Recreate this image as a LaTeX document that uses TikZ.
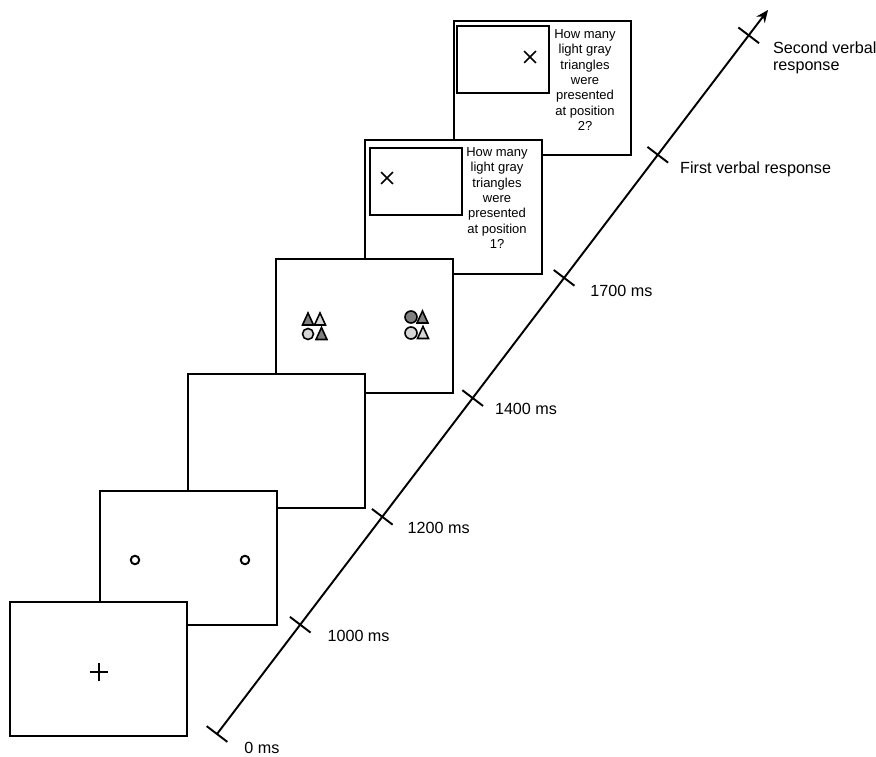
\documentclass[tikz,border=0pt]{standalone}
\usepackage{fontspec}
\setmainfont{Liberation Sans}
\usetikzlibrary{calc,arrows.meta,shapes.misc}

\definecolor{darkshape}{gray}{0.5}
\definecolor{lightshape}{gray}{0.84}

% small triangle of the display: colour, x, y
\newcommand{\stimtri}[3]{\filldraw[stim, fill=#1] (#2-5.5,#3+6) -- (#2,#3-6) -- (#2+5.5,#3+6) -- cycle;}

\begin{document}
\begin{tikzpicture}[
		x=0.02cm, y=-0.02cm,
		screen/.style={draw, fill=white, line width=0.9pt, anchor=north west, inner sep=0pt,
				minimum width=3.54cm, minimum height=2.68cm},
		frame/.style={draw, line width=1pt, anchor=north west, inner sep=0pt,
				minimum width=1.84cm, minimum height=1.34cm},
		question/.style={align=center, inner sep=0pt, font=\fontsize{7.4}{8.8}\selectfont},
		timelabel/.style={anchor=north west, align=left, inner sep=0pt, font=\fontsize{9.2}{9.8}\selectfont},
		crossmark/.style={draw, cross out, line width=1pt, minimum size=0.2cm, inner sep=0pt},
		stim/.style={draw=black, line width=0.9pt}
	]
	\useasboundingbox (0,0) rectangle (876,757);

	% screens, last one first so that earlier ones lie on top
	\foreach \i/\x/\y in {6/453/20, 5/364/139, 4/275/258, 3/187/373, 2/99/490, 1/9/601}
	\node[screen] (s\i) at (\x,\y) {};

	% fixation cross and place holders
	\node[crossmark, rotate=45, line width=0.7pt, minimum size=0.24cm] (fix) at (99,672) {};
	\node[circle, draw, line width=1.1pt, minimum size=0.17cm, inner sep=0pt] (ph1) at (135,560) {};
	\node[circle, draw, line width=1.1pt, minimum size=0.17cm, inner sep=0pt] (ph2) at (245,560) {};

	% stimulus display
	\stimtri{darkshape}{308}{319}
	\stimtri{lightshape}{320}{319}
	\filldraw[stim, fill=lightshape] (308,334) circle[radius=5.5];
	\stimtri{darkshape}{321.5}{333.5}
	\filldraw[stim, fill=darkshape] (411,317) circle[radius=6];
	\stimtri{darkshape}{422.5}{317}
	\filldraw[stim, fill=lightshape] (411,333) circle[radius=6];
	\stimtri{lightshape}{423}{332.5}

	% response screens
	\node[frame] (f5) at ($(s5.north west)+(5,8)$) {};
	\node[crossmark] (x5) at (387,178) {};
	\node[question] (q5) at ($(s5.north west)+(133,59)$)
	{How many\\light gray\\triangles\\were\\presented\\at position\\1?};
	\node[frame] (f6) at ($(s6.north west)+(3,5)$) {};
	\node[crossmark] (x6) at (530,57) {};
	\node[question] (q6) at ($(s6.north west)+(132,60)$)
	{How many\\light gray\\triangles\\were\\presented\\at position\\2?};

	% time axis
	\coordinate (t0) at (217,734);
	\coordinate (tip) at (768,10);
	\draw[line width=1.1pt, -{Stealth[length=7pt,width=6pt]}] (t0) -- (tip);
	\foreach \p/\n in {0.151/1, 0.300/2, 0.464/3, 0.630/4, 0.800/5, 0.965/6}
	\coordinate (t\n) at ($(t0)!\p!(tip)$);
	\foreach \n in {0,...,6}
	\draw[line width=1.1pt] ($(t\n)!0.26cm!90:(tip)$) -- ($(t\n)!0.26cm!-90:(tip)$);

	\node[timelabel] (l0) at ($(t0)+(27,8)$) {0 ms};
	\node[timelabel] (l1) at ($(t1)+(27,5)$) {1000 ms};
	\node[timelabel] (l2) at ($(t2)+(25,5)$) {1200 ms};
	\node[timelabel] (l3) at ($(t3)+(22,5)$) {1400 ms};
	\node[timelabel] (l4) at ($(t4)+(26,7)$) {1700 ms};
	\node[timelabel] (l5) at ($(t5)+(22,7)$) {First verbal response};
	\node[timelabel] (l6) at ($(t6)+(24,6)$) {Second verbal\\response};
\end{tikzpicture}
\end{document}
